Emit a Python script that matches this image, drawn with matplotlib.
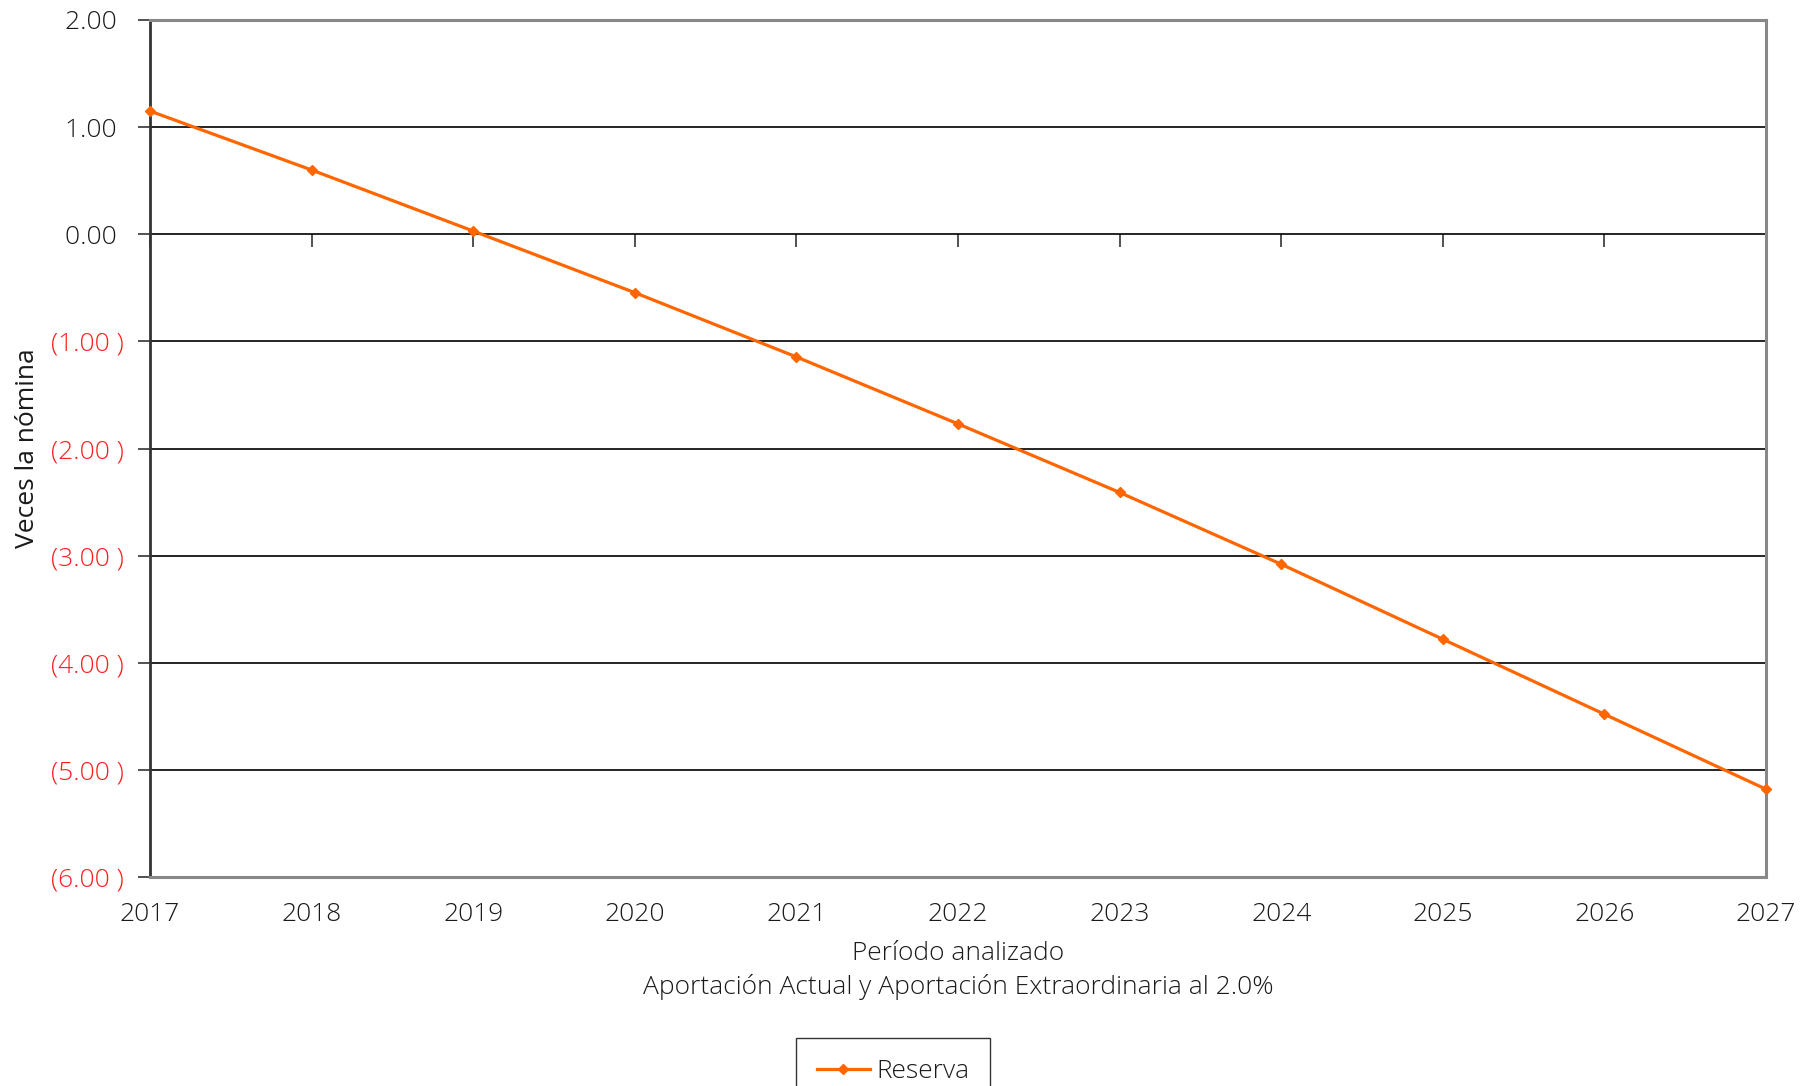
import matplotlib
matplotlib.use("Agg")
import matplotlib.pyplot as plt
from matplotlib.ticker import FuncFormatter

# data
years   = [2017, 2018, 2019, 2020, 2021, 2022, 2023, 2024, 2025, 2026, 2027]
reserva = [1.15, 0.60, 0.03, -0.545, -1.145, -1.77, -2.41, -3.08, -3.78, -4.48, -5.18]
yticks  = [2.0, 1.0, 0.0, -1.0, -2.0, -3.0, -4.0, -5.0, -6.0]

plt.rcParams['font.family'] = ['Open Sans', 'DejaVu Sans']
plt.rcParams['font.weight'] = 'light'

orange = '#ff6600'
textc  = '#1a1a1a'
redc   = '#ff1f1f'
fs = 19

fig = plt.figure(figsize=(18.18, 10.86), dpi=100)
ax = fig.add_axes([0.0825, 0.1924, 0.9714 - 0.0825, 0.9816 - 0.1924])

# gridlines
for v in yticks:
    ax.axhline(v, color='black', lw=1.2, zorder=1)

ax.plot(years, reserva, color=orange, lw=2.3, marker='D', ms=5, zorder=3,
        label='Reserva', clip_on=False)

ax.set_xlim(2017, 2027)
ax.set_ylim(-6, 2)
ax.set_xticks(years)
ax.set_yticks(yticks)

def fmt(v, pos):
    if v < 0:
        return "({:.2f} )".format(abs(v))
    return "{:.2f} ".format(v)

ax.yaxis.set_major_formatter(FuncFormatter(fmt))
ax.tick_params(axis='y', length=9, width=1.2, color='#333333', pad=10,
               labelsize=fs)
ax.tick_params(axis='x', length=0, pad=18, labelsize=fs, labelcolor=textc)
for lab, v in zip(ax.get_yticklabels(), yticks):
    lab.set_color(redc if v < 0 else textc)

# ticks on the zero line
sec = ax.secondary_xaxis(0.75)
sec.set_xticks(years)
sec.tick_params(axis='x', which='both', length=9, width=1.2, color='#333333',
                labeltop=False, labelbottom=False, top=True, direction='in')
for s in sec.spines.values():
    s.set_visible(False)

ax.spines['left'].set_color('#333333')
ax.spines['left'].set_linewidth(2)
for s in ['top', 'bottom', 'right']:
    ax.spines[s].set_color('#888888')
    ax.spines[s].set_linewidth(2.2)

ax.set_ylabel('Veces la nómina', fontsize=fs, color=textc)
ax.yaxis.set_label_coords(-0.068, 0.5)

fig.text(958 / 1818, 1 - 953 / 1086, 'Período analizado', ha='center',
         va='center', fontsize=fs, color=textc)
fig.text(958 / 1818, 1 - 987 / 1086,
         'Aportación Actual y Aportación Extraordinaria al 2.0%',
         ha='center', va='center', fontsize=fs, color=textc)

leg = fig.legend(loc='upper center', bbox_to_anchor=(893 / 1818, 1 - 1038 / 1086),
                 fontsize=fs, frameon=True, fancybox=False, handlelength=2.0,
                 handletextpad=0.25, borderpad=0.8, borderaxespad=0,
                 labelcolor=textc)
leg.get_frame().set_edgecolor('black')
leg.get_frame().set_linewidth(1.0)

fig.savefig('out.png', dpi=100)
